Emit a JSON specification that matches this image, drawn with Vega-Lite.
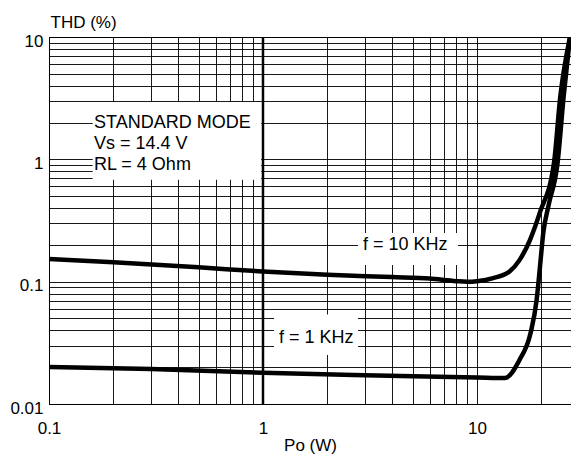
{
  "$schema": "https://vega.github.io/schema/vega-lite/v6.json",
  "width": 522,
  "height": 367,
  "autosize": {"type": "none"},
  "padding": {"left": 49, "top": 37, "right": 0, "bottom": 52},
  "background": "white",
  "config": {"view": {"stroke": "#000", "strokeWidth": 1}, "font": "Liberation Sans"},
  "datasets": {
    "boxes": [
      {"x": 0.16, "xe": 0.98, "y": 0.68, "ye": 2.94},
      {"x": 2.78, "xe": 8.15, "y": 0.137, "ye": 0.25},
      {"x": 1.126, "xe": 2.78, "y": 0.0252, "ye": 0.054}
    ],
    "curves": [
      {"series": "10 KHz", "x": 0.1, "y": 0.153},
      {"series": "10 KHz", "x": 0.2, "y": 0.144},
      {"series": "10 KHz", "x": 0.5, "y": 0.131},
      {"series": "10 KHz", "x": 1, "y": 0.121},
      {"series": "10 KHz", "x": 2, "y": 0.114},
      {"series": "10 KHz", "x": 4, "y": 0.109},
      {"series": "10 KHz", "x": 6, "y": 0.106},
      {"series": "10 KHz", "x": 8, "y": 0.101},
      {"series": "10 KHz", "x": 9, "y": 0.1},
      {"series": "10 KHz", "x": 10, "y": 0.101},
      {"series": "10 KHz", "x": 11.9, "y": 0.107},
      {"series": "10 KHz", "x": 14.2, "y": 0.121},
      {"series": "10 KHz", "x": 15.8, "y": 0.15},
      {"series": "10 KHz", "x": 17.7, "y": 0.22},
      {"series": "10 KHz", "x": 19.7, "y": 0.37},
      {"series": "10 KHz", "x": 22.9, "y": 0.935},
      {"series": "10 KHz", "x": 24.5, "y": 3.24},
      {"series": "10 KHz", "x": 27.2, "y": 10},
      {"series": "1 KHz", "x": 0.1, "y": 0.0201},
      {"series": "1 KHz", "x": 0.3, "y": 0.0193},
      {"series": "1 KHz", "x": 1, "y": 0.018},
      {"series": "1 KHz", "x": 3, "y": 0.0172},
      {"series": "1 KHz", "x": 10, "y": 0.0165},
      {"series": "1 KHz", "x": 13.5, "y": 0.0163},
      {"series": "1 KHz", "x": 15.8, "y": 0.0229},
      {"series": "1 KHz", "x": 17.8, "y": 0.038},
      {"series": "1 KHz", "x": 19.0, "y": 0.071},
      {"series": "1 KHz", "x": 19.7, "y": 0.133},
      {"series": "1 KHz", "x": 20.4, "y": 0.249},
      {"series": "1 KHz", "x": 21.6, "y": 0.42},
      {"series": "1 KHz", "x": 23.8, "y": 0.935},
      {"series": "1 KHz", "x": 25.4, "y": 3.24},
      {"series": "1 KHz", "x": 27.2, "y": 10}
    ],
    "notes": [
      {"x": 0.1623, "y": 2.0, "text": "STANDARD MODE\nVs = 14.4 V\nRL = 4 Ohm"},
      {"x": 2.93, "y": 0.2, "text": "f = 10 KHz"},
      {"x": 1.188, "y": 0.0347, "text": "f = 1 KHz"}
    ],
    "marker": [{"x": 1, "y": 0.01, "ye": 10}]
  },
  "encoding": {
    "x": {
      "field": "x", "type": "quantitative",
      "scale": {"type": "log", "domain": [0.1, 27.5], "nice": false},
      "axis": {
        "title": "Po (W)",
        "values": [0.1, 0.2, 0.3, 0.4, 0.5, 0.6, 0.7, 0.8, 0.9, 1, 2, 3, 4, 5, 6, 7, 8, 9, 10, 20],
        "grid": true, "gridColor": "#000", "gridWidth": 1, "gridOpacity": 0.9,
        "ticks": false, "domainColor": "#000", "domainWidth": 1,
        "labelExpr": "datum.value == 0.1 ? '0.1' : datum.value == 1 ? '1' : datum.value == 10 ? '10' : ''",
        "labelFont": "Liberation Sans", "labelFontSize": 17, "labelColor": "#000",
        "labelPadding": 16, "labelOverlap": false, "labelFlush": false, "labelBound": false,
        "titleFont": "Liberation Sans", "titleFontSize": 17, "titleFontWeight": "normal", "titleColor": "#000",
        "titleX": 261, "titleY": 41, "titleAlign": "center", "titleBaseline": "middle"
      }
    },
    "y": {
      "field": "y", "type": "quantitative",
      "scale": {"type": "log", "domain": [0.01, 10], "nice": false},
      "axis": {
        "title": "THD (%)",
        "values": [0.01, 0.02, 0.03, 0.04, 0.05, 0.06, 0.07, 0.08, 0.09, 0.1, 0.2, 0.3, 0.4, 0.5, 0.6, 0.7, 0.8, 0.9, 1, 2, 3, 4, 5, 6, 7, 8, 9, 10],
        "grid": true, "gridColor": "#000", "gridWidth": 1, "gridOpacity": 0.9,
        "ticks": false, "domainColor": "#000", "domainWidth": 1,
        "labelExpr": "datum.value == 0.01 ? '0.01' : datum.value == 0.1 ? '0.1' : datum.value == 1 ? '1' : datum.value == 10 ? '10' : ''",
        "labelFont": "Liberation Sans", "labelFontSize": 17, "labelColor": "#000",
        "labelPadding": 6, "labelOffset": 4, "labelOverlap": false, "labelFlush": false, "labelBound": false,
        "titleFont": "Liberation Sans", "titleFontSize": 17, "titleFontWeight": "normal", "titleColor": "#000",
        "titleAngle": 0, "titleX": 1, "titleY": -15, "titleAlign": "left", "titleBaseline": "middle"
      }
    }
  },
  "layer": [
    {
      "data": {"name": "boxes"},
      "mark": {"type": "rect", "fill": "white", "strokeWidth": 0},
      "encoding": {
        "x2": {"field": "xe"},
        "y2": {"field": "ye"}
      }
    },
    {
      "data": {"name": "marker"},
      "mark": {"type": "rule", "color": "#000", "strokeWidth": 2.5},
      "encoding": {"y2": {"field": "ye"}}
    },
    {
      "data": {"name": "curves"},
      "mark": {"type": "line", "color": "#000", "strokeWidth": 4.5, "strokeCap": "round", "strokeJoin": "round", "interpolate": "monotone", "clip": true},
      "encoding": {
        "detail": {"field": "series"}
      }
    },
    {
      "data": {"name": "notes"},
      "mark": {"type": "text", "align": "left", "baseline": "middle", "font": "Liberation Sans", "fontSize": 18, "color": "#000", "lineBreak": "\n", "lineHeight": 21},
      "encoding": {
        "text": {"field": "text"}
      }
    }
  ]
}
